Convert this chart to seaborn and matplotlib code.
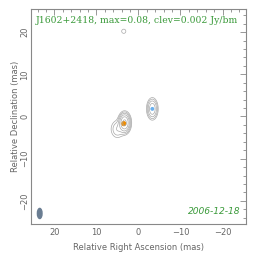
import numpy as np
import pandas as pd
import seaborn as sns
import matplotlib
matplotlib.use("Agg")
import matplotlib.pyplot as plt
from matplotlib.patches import Ellipse

# ---- data ----
title_text = "J1602+2418, max=0.08, clev=0.002 Jy/bm"
date_text = "2006-12-18"
comp_x = [3.3, 5.0, -3.3, 3.5]        # mas (RA offset)
comp_y = [-1.5, -3.0, 1.8, 20.2]      # mas (Dec offset)
comp_flux = [0.08, 0.008, 0.03, 0.004]  # Jy/bm
comp_sx = [0.62, 0.9, 0.6, 0.42]
comp_sy = [1.05, 1.2, 1.15, 0.42]
clev = 0.002
n_levels = 7
peak_x = [3.5, -3.3]
peak_y = [-1.7, 1.8]
peak_colors = ["#f08c00", "#6ab0ee"]
beam_x, beam_y = 23.5, -23.0
beam_minor, beam_major = 1.1, 2.4
x_ticks = [20, 10, 0, -10, -20]
y_ticks = [-20, -10, 0, 10, 20]

sns.set_theme(style="white")
plt.rcParams['font.family'] = ['DejaVu Sans']

fig = plt.figure(figsize=(2.64, 2.62), dpi=100)
ax = fig.add_axes([0.117, 0.145, 0.815, 0.821])

xs = np.linspace(-26, 26, 500)
ys = np.linspace(-26, 26, 500)
X, Y = np.meshgrid(xs, ys)
Z = np.zeros_like(X)
for cx, cy, f, sx, sy in zip(comp_x, comp_y, comp_flux, comp_sx, comp_sy):
    Z += f * np.exp(-0.5 * (((X - cx) / sx) ** 2 + ((Y - cy) / sy) ** 2))
levels = [clev * 2 ** k for k in range(n_levels)]
ax.contour(X, Y, Z, levels=levels, colors="#a8a8a8", linewidths=0.5)

df = pd.DataFrame({"x": peak_x, "y": peak_y, "c": ["a", "b"]})
sns.scatterplot(data=df, x="x", y="y", hue="c", palette=peak_colors,
                s=[14, 8], marker="o", edgecolor="none", legend=False, ax=ax)

ax.add_patch(Ellipse((beam_x, beam_y), beam_minor, beam_major,
                     facecolor="#6a7d92", edgecolor="#6a7d92"))

ax.set_xlim(25.6, -25.6)
ax.set_ylim(-25.5, 25.5)
ax.set_xticks(x_ticks)
ax.set_yticks(y_ticks)
ax.set_xticklabels(["20", "10", "0", "\u221210", "\u221220"])
ax.set_yticklabels(["\u221220", "\u221210", "0", "10", "20"], rotation=90, va="center")
ax.set_xticks(np.arange(-24, 25, 2), minor=True)
ax.set_yticks(np.arange(-24, 25, 2), minor=True)
ax.tick_params(which="both", direction="in", top=True, right=True,
               colors="#888888", labelcolor="#666666", labelsize=6, width=0.6)
ax.tick_params(which="major", length=4)
ax.tick_params(which="minor", length=2)
ax.tick_params(axis="x", which="major", pad=3)
ax.tick_params(axis="y", which="major", pad=1)
for s in ax.spines.values():
    s.set_color("#888888")
    s.set_linewidth(0.8)
ax.set_xlabel("Relative Right Ascension (mas)", fontsize=6, color="#666666", labelpad=4)
ax.set_ylabel("Relative Declination (mas)", fontsize=6, color="#666666", labelpad=0)

ax.text(0.025, 0.965, title_text, transform=ax.transAxes, ha="left", va="top",
        color="#3a9a3a", fontsize=6.7, family="DejaVu Serif")
ax.text(0.975, 0.035, date_text, transform=ax.transAxes, ha="right", va="bottom",
        color="#3a9a3a", fontsize=6.6, style="italic")

fig.savefig("out.png", dpi=100)
